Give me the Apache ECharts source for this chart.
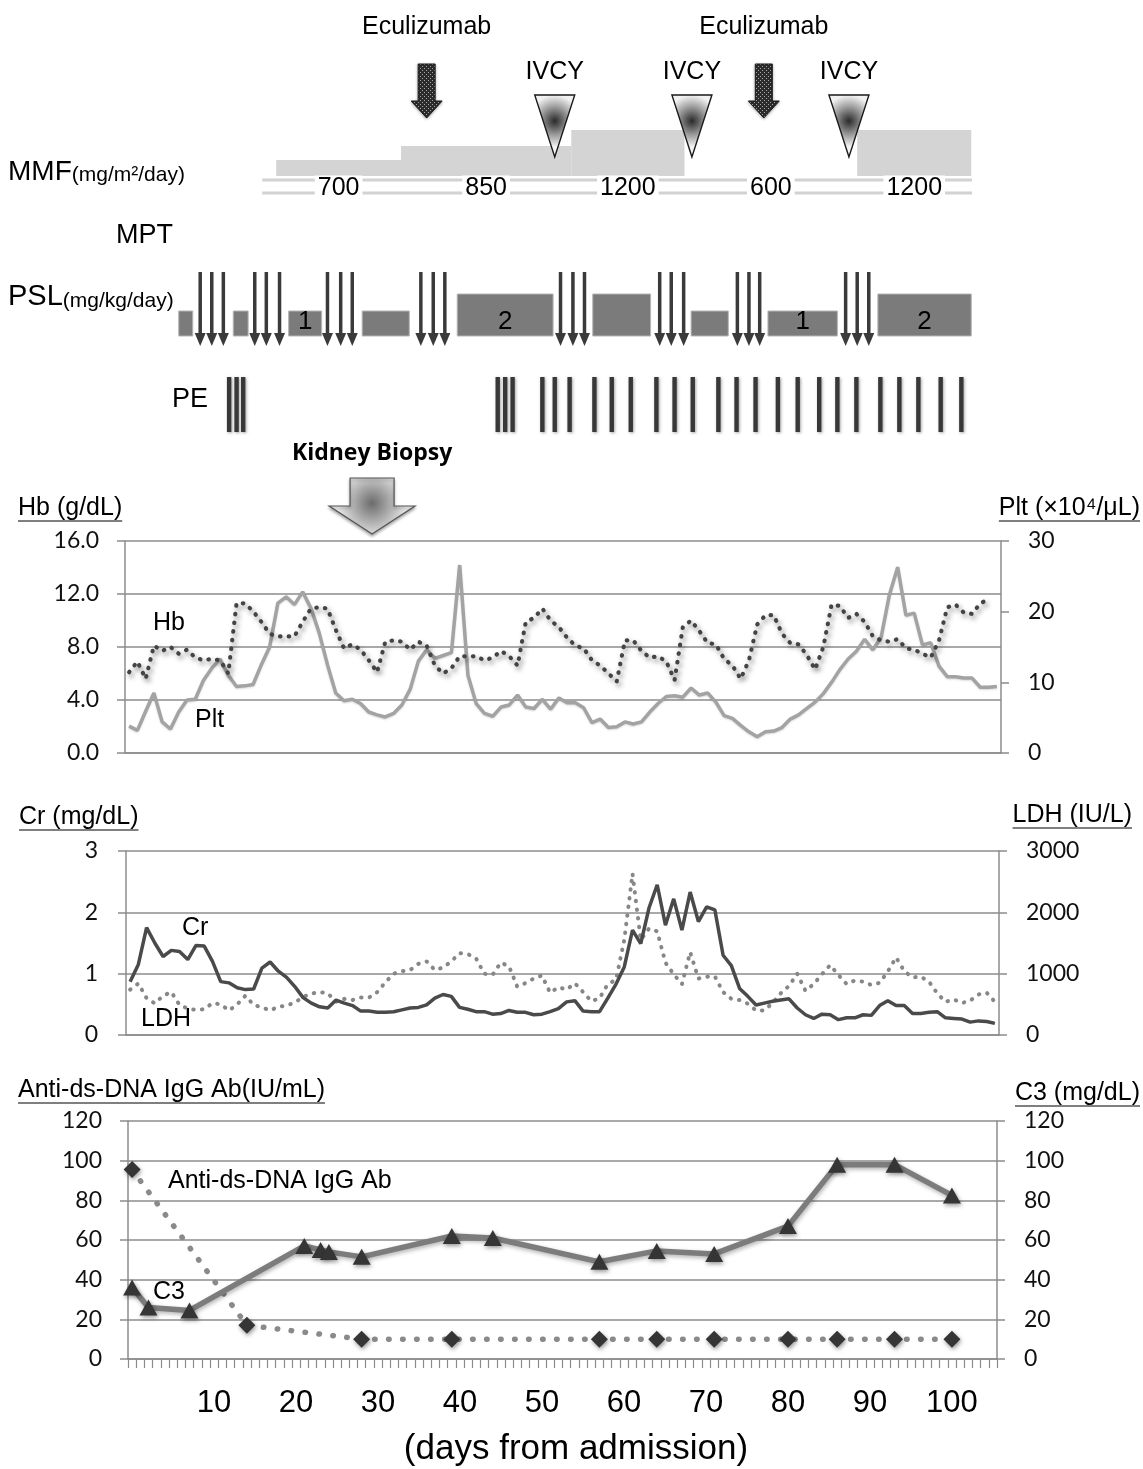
<!DOCTYPE html>
<html>
<head>
<meta charset="utf-8">
<title>Clinical course</title>
<script src="https://cdn.jsdelivr.net/npm/echarts@6/dist/echarts.min.js"></script>
<style>
  html, body { margin: 0; padding: 0; background: #fff; }
  #chart { width: 1143px; height: 1469px; }
</style>
</head>
<body>
<div id="chart"></div>
<script>
// ---------- Laboratory data, one value per day from admission ----------
const DAYS = Array.from({ length: 106 }, (_, i) => String(i));
const X_TICK_LABELS = [10, 20, 30, 40, 50, 60, 70, 80, 90, 100];

const HB_TICKS = [0, 4, 8, 12, 16];
const PLT_TICKS = [0, 10, 20, 30];
const CR_TICKS = [0, 1, 2, 3];
const LDH_TICKS = [0, 1000, 2000, 3000];
const DSDNA_TICKS = [0, 20, 40, 60, 80, 100, 120];
const C3_TICKS = [0, 20, 40, 60, 80, 100, 120];

// Hb (g/dL), days 0-104
const HB = [6.1, 6.9, 5.6, 8.1, 7.7, 8.0, 7.5, 7.8, 7.2, 7.0,
            7.1, 7.0, 6.0, 11.3, 11.3, 10.7, 9.9, 9.0, 8.8, 8.8,
            8.8, 9.9, 10.9, 11.0, 10.9, 9.3, 7.9, 8.2, 7.8, 7.0,
            6.1, 8.4, 8.5, 8.4, 7.8, 8.4, 8.1, 6.6, 6.0, 6.4,
            7.3, 7.3, 7.3, 7.0, 7.2, 7.7, 7.3, 6.6, 9.9, 10.2,
            10.9, 10.0, 9.5, 8.7, 8.1, 7.9, 7.0, 6.6, 6.0, 5.4,
            8.5, 8.5, 7.7, 7.2, 7.3, 6.9, 5.5, 9.5, 10.0, 9.2,
            8.3, 8.2, 7.1, 6.6, 5.6, 7.0, 9.7, 10.4, 10.4, 9.0,
            8.3, 8.2, 7.4, 6.3, 8.0, 11.2, 11.1, 10.2, 10.5, 9.9,
            8.8, 8.5, 8.4, 8.6, 7.9, 7.8, 7.5, 7.2, 8.5, 11.0,
            11.2, 10.6, 10.5, 11.3, 11.6];

// Plt (x10^4/uL), days 0-105
const PLT = [3.8, 3.2, 5.9, 8.5, 4.4, 3.4, 5.8, 7.5, 7.6, 10.3,
             12.0, 13.3, 11.0, 9.4, 9.5, 9.7, 12.5, 15.0, 21.2, 22.1,
             21.0, 22.8, 20.5, 17.0, 12.5, 8.5, 7.4, 7.6, 7.0, 5.8,
             5.4, 5.1, 5.6, 6.8, 9.0, 13.0, 14.6, 13.4, 13.8, 14.2,
             26.6, 11.0, 7.0, 5.6, 5.2, 6.5, 6.8, 8.2, 6.5, 6.3,
             7.6, 6.2, 7.8, 7.1, 7.1, 6.4, 4.3, 4.8, 3.6, 3.7,
             4.4, 4.1, 4.4, 5.8, 7.0, 8.0, 8.1, 7.9, 9.2, 8.2,
             8.5, 7.2, 5.3, 4.9, 3.9, 3.0, 2.3, 3.0, 3.1, 3.6,
             4.8, 5.4, 6.3, 7.2, 8.4, 10.0, 11.8, 13.3, 14.4, 16.1,
             14.6, 16.4, 22.4, 26.3, 19.5, 19.8, 15.3, 15.6, 12.3, 10.8,
             10.8, 10.6, 10.6, 9.3, 9.3, 9.4];

// Cr (mg/dL), days 0-105
const CR = [0.87, 1.15, 1.75, 1.50, 1.28, 1.38, 1.36, 1.23, 1.46, 1.45,
            1.20, 0.87, 0.85, 0.77, 0.74, 0.75, 1.09, 1.19, 1.04, 0.94,
            0.79, 0.61, 0.52, 0.46, 0.44, 0.57, 0.52, 0.48, 0.39, 0.39,
            0.37, 0.37, 0.38, 0.41, 0.44, 0.45, 0.49, 0.60, 0.66, 0.63,
            0.45, 0.42, 0.38, 0.38, 0.34, 0.35, 0.40, 0.37, 0.37, 0.33,
            0.34, 0.38, 0.43, 0.54, 0.56, 0.39, 0.38, 0.38, 0.60, 0.83,
            1.11, 1.71, 1.49, 2.07, 2.45, 1.79, 2.22, 1.71, 2.33, 1.85,
            2.09, 2.04, 1.30, 1.13, 0.76, 0.63, 0.49, 0.52, 0.55, 0.57,
            0.59, 0.44, 0.33, 0.27, 0.34, 0.33, 0.25, 0.28, 0.28, 0.33,
            0.32, 0.48, 0.56, 0.48, 0.48, 0.35, 0.35, 0.37, 0.38, 0.28,
            0.27, 0.26, 0.21, 0.23, 0.22, 0.19];

// LDH (IU/L), days 0-105
const LDH = [740, 840, 600, 515, 640, 700, 490, 430, 410, 420,
             520, 500, 400, 500, 640, 490, 450, 400, 460, 480,
             530, 620, 675, 700, 680, 540, 590, 570, 610, 610,
             700, 860, 1000, 1040, 1060, 1160, 1200, 1060, 1100, 1200,
             1336, 1320, 1250, 1000, 980, 1180, 1120, 790, 845, 920,
             970, 690, 780, 740, 845, 700, 550, 600, 830, 900,
             1550, 2630, 1550, 1735, 1690, 1180, 990, 830, 1350, 920,
             950, 955, 700, 590, 570, 510, 400, 400, 520, 680,
             800, 1000, 720, 830, 990, 1140, 980, 830, 890, 870,
             815, 850, 1036, 1265, 1040, 940, 950, 870, 680, 540,
             580, 520, 560, 660, 690, 540];

// Sparse measurements
const C3_DAYS = [0, 2, 7, 21, 23, 24, 28, 39, 44, 57, 64, 71, 80, 86, 93, 100];
const C3 = [36, 26, 24.5, 57, 55, 54, 51.5, 62, 61, 49, 54.5, 53, 67, 98, 98, 82.5];
const DSDNA_DAYS = [0, 14, 28, 39, 57, 64, 71, 80, 86, 93, 100];
const DSDNA = [95.5, 17, 10, 10, 10, 10, 10, 10, 10, 10, 10];

// ---------- Treatment schedule (days from admission) ----------
const ECULIZUMAB_DAYS = [36.0, 76.8];
const IVCY_DAYS = [51.5, 68.1, 87.1];
const MMF_START = [17.8, 32.9, 53.5, 67.2, 88.1];
const MMF_END = [32.9, 53.5, 67.2, 88.1, 101.9];
const MMF_DOSE = [700, 850, 1200, 600, 1200];
const MMF_SPAN = [16.1, 102.0];
const PSL_START = [6.0, 12.6, 19.3, 28.2, 39.7, 56.1, 68.0, 77.3, 90.6];
const PSL_END = [7.7, 14.4, 23.3, 33.9, 51.3, 63.1, 72.5, 85.7, 101.9];
const PSL_DOSE = [1, 1, 1, 1, 2, 2, 1, 1, 2];
const PSL_LABELED = [false, false, true, false, true, false, false, true, true];
const MPT_DAYS = [8.6, 10.0, 11.4, 15.2, 16.6, 18.2, 24.0, 25.6, 27.0, 35.3, 36.8, 38.2,
                  52.2, 53.7, 55.1, 64.2, 65.6, 67.1, 73.6, 75.0, 76.3, 86.7, 88.1, 89.5];
const PE_DAYS = [12.1, 13.0, 13.8, 44.6, 45.5, 46.4, 50.0, 51.5, 53.3, 56.3, 58.4, 60.7, 63.8, 66.0,
                 68.2, 71.3, 73.5, 75.8, 78.5, 80.9, 83.5, 85.7, 88.0, 90.9, 93.2, 95.5, 98.2, 100.7];
const BIOPSY_DAY = 29.4;

// ---------- Styling / layout ----------
const SANS = '"Liberation Sans", Arial, sans-serif';
const NUM = 'Lato, "Open Sans", sans-serif';
const GRID_GRAY = '#8c8c8c';

// vertical rows of the treatment schedule (pixels)
const ROW = {
  ecuText: 27, ecuTop: 64, ecuNeck: 101, ecuTip: 118,
  ivcyText: 72, ivcyTop: 95, ivcyTip: 157,
  mmfBase: 176, mmfLine1: 180, mmfLine2: 193, mmfText: 188,
  pslBase: 336, pslText: 322, mptTop: 272, mptNeck: 333, mptTip: 346,
  peTop: 377, peBottom: 432,
  biopsyText: 453, biopsyTop: 478, biopsyNeck: 506, biopsyTip: 534
};

// schematic bar height for a MMF dose
function mmfHeight(dose) {
  const s = [[600, 0], [700, 16], [850, 30], [1200, 46]];
  for (let i = 1; i < s.length; i++) {
    if (dose <= s[i][0]) {
      const [a, ha] = s[i - 1], [b, hb] = s[i];
      return ha + (hb - ha) * (dose - a) / (b - a);
    }
  }
  return s[s.length - 1][1];
}
function pslHeight(dose) { return 8 + 17 * dose; }

const checkerCanvas = document.createElement('canvas');
checkerCanvas.width = 4; checkerCanvas.height = 4;
(function () {
  const g = checkerCanvas.getContext('2d');
  g.fillStyle = '#2c2c2c'; g.fillRect(0, 0, 4, 4);
  g.fillStyle = '#a8a8a8'; g.fillRect(0, 0, 1, 1); g.fillRect(2, 2, 1, 1);
})();
const CHECKER = { image: checkerCanvas, repeat: 'repeat' };

const measureCtx = document.createElement('canvas').getContext('2d');
function measureText(text, font) { measureCtx.font = font; return measureCtx.measureText(text).width; }

function txt(text, x, y, font, align, extra) {
  return Object.assign({
    type: 'text', x: x, y: y, silent: true,
    style: { text: text, font: font, fill: '#000', align: align || 'left', textAlign: align || 'left',
             verticalAlign: 'middle', textVerticalAlign: 'middle' }
  }, extra || {});
}
function underlinedTitle(text, x, y, side) {
  const font = '25px ' + SANS;
  const w = measureText(text, font);
  const x0 = side === 'right' ? x - w : x;
  return {
    type: 'group', silent: true,
    children: [
      txt(text, x0, y, font, 'left'),
      { type: 'line', shape: { x1: x0, y1: y + 13, x2: x0 + w, y2: y + 13 }, style: { stroke: '#000', lineWidth: 1.2 } }
    ]
  };
}

function dayAxis(gridIndex, withLabels) {
  return {
    type: 'category', gridIndex: gridIndex, data: DAYS, boundaryGap: true,
    axisLine: { show: true, lineStyle: { color: GRID_GRAY, width: 1.5 } },
    axisTick: withLabels ? { show: true, interval: 0, length: 9, lineStyle: { color: GRID_GRAY, width: 1.2 } } : { show: false },
    axisLabel: withLabels ? {
      show: true, interval: (i, v) => X_TICK_LABELS.includes(Number(v)),
      fontFamily: SANS, fontSize: 31, color: '#000', margin: 29
    } : { show: false },
    splitLine: { show: false }
  };
}
function valueAxis(gridIndex, ticks, position, fmt, margin, split) {
  return {
    type: 'value', gridIndex: gridIndex, position: position,
    min: ticks[0], max: ticks[ticks.length - 1], interval: ticks[1] - ticks[0],
    axisLine: { show: true, lineStyle: { color: GRID_GRAY, width: 1.5 } },
    axisTick: { show: true, length: 8, lineStyle: { color: GRID_GRAY, width: 1.5 } },
    axisLabel: { formatter: fmt, fontFamily: NUM, fontSize: 23, color: '#111', margin: margin },
    splitLine: { show: split, lineStyle: { color: GRID_GRAY, width: 1.5 } }
  };
}

const xOf = (api, d) => api.coord([d, 0])[0];
const TL = { type: 'custom', coordinateSystem: 'cartesian2d', xAxisIndex: 0, yAxisIndex: 0, silent: true, clip: false };

const series = [
  // MMF baseline rails
  Object.assign({}, TL, {
    data: [MMF_SPAN], encode: { x: [0, 1] },
    renderItem: (p, api) => {
      const x0 = xOf(api, api.value(0)), x1 = xOf(api, api.value(1));
      const st = { stroke: '#d2d2d2', lineWidth: 3 };
      return { type: 'group', children: [
        { type: 'line', shape: { x1: x0, y1: ROW.mmfLine1, x2: x1, y2: ROW.mmfLine1 }, style: st },
        { type: 'line', shape: { x1: x0, y1: ROW.mmfLine2, x2: x1, y2: ROW.mmfLine2 }, style: st }
      ] };
    }
  }),
  // MMF dose steps
  Object.assign({}, TL, {
    data: MMF_START.map((s, i) => [s, MMF_END[i], MMF_DOSE[i]]), encode: { x: [0, 1] },
    renderItem: (p, api) => {
      const x0 = xOf(api, api.value(0)), x1 = xOf(api, api.value(1)), dose = api.value(2);
      const h = mmfHeight(dose);
      const kids = [];
      if (h > 0) kids.push({ type: 'rect', shape: { x: x0, y: ROW.mmfBase - h, width: x1 - x0, height: h }, style: { fill: '#d4d4d4' } });
      const label = txt(String(dose), (x0 + x1) / 2, ROW.mmfText, '25px ' + SANS, 'center');
      label.style.backgroundColor = '#fff';
      label.style.padding = [0, 3];
      kids.push(label);
      return { type: 'group', children: kids };
    }
  }),
  // IVCY
  Object.assign({}, TL, {
    data: IVCY_DAYS.map(d => [d]), encode: { x: 0 },
    renderItem: (p, api) => {
      const x = xOf(api, api.value(0));
      return { type: 'group', children: [
        { type: 'polygon', shape: { points: [[x - 20, ROW.ivcyTop], [x + 20, ROW.ivcyTop], [x, ROW.ivcyTip]] },
          style: { fill: new echarts.graphic.RadialGradient(0.5, 0.42, 0.62, [
            { offset: 0, color: '#2a2a2a' }, { offset: 0.55, color: '#9c9c9c' }, { offset: 1, color: '#f2f2f2' }]),
            stroke: '#1a1a1a', lineWidth: 1.4 } },
        txt('IVCY', x, ROW.ivcyText, '25px ' + SANS, 'center')
      ] };
    }
  }),
  // Eculizumab
  Object.assign({}, TL, {
    data: ECULIZUMAB_DAYS.map(d => [d]), encode: { x: 0 },
    renderItem: (p, api) => {
      const x = xOf(api, api.value(0));
      return { type: 'group', children: [
        { type: 'polygon', shape: { points: [[x - 8.5, ROW.ecuTop], [x + 8.5, ROW.ecuTop], [x + 8.5, ROW.ecuNeck],
            [x + 15.5, ROW.ecuNeck], [x, ROW.ecuTip], [x - 15.5, ROW.ecuNeck], [x - 8.5, ROW.ecuNeck]] },
          style: { fill: CHECKER, stroke: '#1e1e1e', lineWidth: 1, shadowColor: 'rgba(0,0,0,0.3)', shadowBlur: 3, shadowOffsetY: 1 } },
        txt('Eculizumab', x, ROW.ecuText, '25px ' + SANS, 'center')
      ] };
    }
  }),
  // PSL
  Object.assign({}, TL, {
    data: PSL_START.map((s, i) => [s, PSL_END[i], PSL_DOSE[i], PSL_LABELED[i] ? 1 : 0]), encode: { x: [0, 1] },
    renderItem: (p, api) => {
      const x0 = xOf(api, api.value(0)), x1 = xOf(api, api.value(1)), dose = api.value(2);
      const h = pslHeight(dose);
      const kids = [{ type: 'rect', shape: { x: x0, y: ROW.pslBase - h, width: x1 - x0, height: h },
                      style: { fill: '#7b7b7b', stroke: '#b5b5b5', lineWidth: 1 } }];
      if (api.value(3)) kids.push(txt(String(dose), (x0 + x1) / 2, ROW.pslText, '26px ' + SANS, 'center'));
      return { type: 'group', children: kids };
    }
  }),
  // MPT pulses
  Object.assign({}, TL, {
    data: MPT_DAYS.map(d => [d]), encode: { x: 0 },
    renderItem: (p, api) => {
      const x = xOf(api, api.value(0));
      return { type: 'group', children: [
        { type: 'line', shape: { x1: x, y1: ROW.mptTop, x2: x, y2: ROW.mptNeck + 2 }, style: { stroke: '#3a3a3a', lineWidth: 3.5 } },
        { type: 'polygon', shape: { points: [[x - 5.5, ROW.mptNeck], [x + 5.5, ROW.mptNeck], [x, ROW.mptTip]] }, style: { fill: '#3a3a3a' } }
      ] };
    }
  }),
  // plasma exchange sessions
  Object.assign({}, TL, {
    data: PE_DAYS.map(d => [d]), encode: { x: 0 },
    renderItem: (p, api) => {
      const x = xOf(api, api.value(0));
      return { type: 'rect', shape: { x: x - 2.2, y: ROW.peTop, width: 4.4, height: ROW.peBottom - ROW.peTop },
               style: { fill: '#383838', shadowColor: 'rgba(0,0,0,0.35)', shadowBlur: 3, shadowOffsetX: 1, shadowOffsetY: 1 } };
    }
  }),
  // kidney biopsy
  Object.assign({}, TL, {
    data: [[BIOPSY_DAY]], encode: { x: 0 },
    renderItem: (p, api) => {
      const x = xOf(api, api.value(0));
      return { type: 'group', children: [
        { type: 'polygon', shape: { points: [[x - 22, ROW.biopsyTop], [x + 22, ROW.biopsyTop], [x + 22, ROW.biopsyNeck],
            [x + 43, ROW.biopsyNeck], [x, ROW.biopsyTip], [x - 43, ROW.biopsyNeck], [x - 22, ROW.biopsyNeck]] },
          style: { fill: new echarts.graphic.RadialGradient(0.5, 0.45, 0.6, [
            { offset: 0, color: '#6c6c6c' }, { offset: 1, color: '#e6e6e6' }]),
            stroke: '#555', lineWidth: 1.2, shadowColor: 'rgba(0,0,0,0.3)', shadowBlur: 3, shadowOffsetY: 2 } },
        txt('Kidney Biopsy', x, ROW.biopsyText, 'bold 23px "Open Sans", Lato, sans-serif', 'center')
      ] };
    }
  }),

  // ---- Hb / Plt ----
  { type: 'line', name: 'Plt', xAxisIndex: 1, yAxisIndex: 2, data: PLT, symbol: 'none', silent: true,
    lineStyle: { color: '#a3a3a3', width: 3.5, shadowColor: 'rgba(0,0,0,0.15)', shadowBlur: 2, shadowOffsetY: 1 } },
  { type: 'line', name: 'Hb', xAxisIndex: 1, yAxisIndex: 1, data: HB, symbol: 'none', silent: true,
    lineStyle: { color: '#444', width: 4.2, type: [0.5, 8.2], cap: 'round',
                 shadowColor: 'rgba(0,0,0,0.5)', shadowBlur: 5, shadowOffsetX: 2, shadowOffsetY: 3 } },

  // ---- Cr / LDH ----
  { type: 'line', name: 'LDH', xAxisIndex: 2, yAxisIndex: 4, data: LDH, symbol: 'none', silent: true,
    lineStyle: { color: '#878787', width: 4, type: [0.5, 8.2], cap: 'round' } },
  { type: 'line', name: 'Cr', xAxisIndex: 2, yAxisIndex: 3, data: CR, symbol: 'none', silent: true,
    lineStyle: { color: '#4a4a4a', width: 3.5 } },

  // ---- anti-ds-DNA / C3 ----
  { type: 'line', name: 'Anti-ds-DNA IgG Ab', xAxisIndex: 3, yAxisIndex: 5, silent: true,
    data: DSDNA_DAYS.map((d, i) => [d, DSDNA[i]]), showAllSymbol: true,
    symbol: 'diamond', symbolSize: 17,
    itemStyle: { color: '#353535', shadowColor: 'rgba(0,0,0,0.4)', shadowBlur: 4, shadowOffsetX: 1, shadowOffsetY: 2 },
    lineStyle: { color: '#8a8a8a', width: 5.5, type: [0.5, 13.5], cap: 'round' } },
  { type: 'line', name: 'C3', xAxisIndex: 3, yAxisIndex: 6, silent: true,
    data: C3_DAYS.map((d, i) => [d, C3[i]]), showAllSymbol: true,
    symbol: 'triangle', symbolSize: [18, 16],
    itemStyle: { color: '#353535', shadowColor: 'rgba(0,0,0,0.4)', shadowBlur: 4, shadowOffsetX: 1, shadowOffsetY: 2 },
    lineStyle: { color: '#7c7c7c', width: 5.5, shadowColor: 'rgba(0,0,0,0.3)', shadowBlur: 4, shadowOffsetX: 1, shadowOffsetY: 2 } }
];

const option = {
  animation: false,
  backgroundColor: '#fff',
  textStyle: { fontFamily: SANS },
  grid: [
    { left: 125, width: 876, top: 0, height: 545 },
    { left: 125, width: 876, top: 541, height: 212 },
    { left: 126, width: 873, top: 851, height: 184 },
    { left: 128, width: 869, top: 1121, height: 238 }
  ],
  xAxis: [
    { type: 'value', gridIndex: 0, min: -0.5, max: 105.5, show: false },
    dayAxis(1, false),
    dayAxis(2, false),
    dayAxis(3, true)
  ],
  yAxis: [
    { type: 'value', gridIndex: 0, min: 0, max: 545, inverse: true, show: false },
    valueAxis(1, HB_TICKS, 'left', v => v.toFixed(1), 26, true),
    valueAxis(1, PLT_TICKS, 'right', v => String(v), 27, false),
    valueAxis(2, CR_TICKS, 'left', v => String(v), 28, true),
    valueAxis(2, LDH_TICKS, 'right', v => String(v), 27, false),
    valueAxis(3, DSDNA_TICKS, 'left', v => String(v), 26, true),
    valueAxis(3, C3_TICKS, 'right', v => String(v), 27, false)
  ],
  series: series,
  graphic: { elements: [
    // treatment row captions
    { type: 'text', x: 8, y: 172, silent: true, style: {
        text: '{a|MMF}{b|(mg/m²/day)}', verticalAlign: 'middle', textVerticalAlign: 'middle',
        rich: { a: { font: '28px ' + SANS, fill: '#000', verticalAlign: 'bottom' },
                b: { font: '21px ' + SANS, fill: '#000', verticalAlign: 'bottom' } } } },
    txt('MPT', 116, 236, '27px ' + SANS, 'left'),
    { type: 'text', x: 8, y: 297, silent: true, style: {
        text: '{a|PSL}{b|(mg/kg/day)}', verticalAlign: 'middle', textVerticalAlign: 'middle',
        rich: { a: { font: '29px ' + SANS, fill: '#000', verticalAlign: 'bottom' },
                b: { font: '21px ' + SANS, fill: '#000', verticalAlign: 'bottom' } } } },
    txt('PE', 172, 400, '27px ' + SANS, 'left'),

    // axis titles
    underlinedTitle('Hb (g/dL)', 18, 508, 'left'),
    underlinedTitle('Plt (×10⁴/μL)', 1140, 508, 'right'),
    underlinedTitle('Cr (mg/dL)', 19, 817, 'left'),
    underlinedTitle('LDH (IU/L)', 1132, 815, 'right'),
    underlinedTitle('Anti-ds-DNA IgG Ab(IU/mL)', 18, 1090, 'left'),
    underlinedTitle('C3 (mg/dL)', 1140, 1093, 'right'),

    // series captions
    txt('Hb', 153, 623, '25px ' + SANS, 'left'),
    txt('Plt', 195, 720, '25px ' + SANS, 'left'),
    txt('Cr', 182, 928, '25px ' + SANS, 'left'),
    txt('LDH', 141, 1019, '25px ' + SANS, 'left'),
    txt('Anti-ds-DNA IgG Ab', 168, 1181, '25px ' + SANS, 'left'),
    txt('C3', 153, 1292, '25px ' + SANS, 'left'),

    // x axis caption
    txt('(days from admission)', 576, 1449, '35px ' + SANS, 'center')
  ] }
};

const chart = echarts.init(document.getElementById('chart'), null, { renderer: 'canvas', width: 1143, height: 1469 });
chart.setOption(option);
</script>
</body>
</html>
